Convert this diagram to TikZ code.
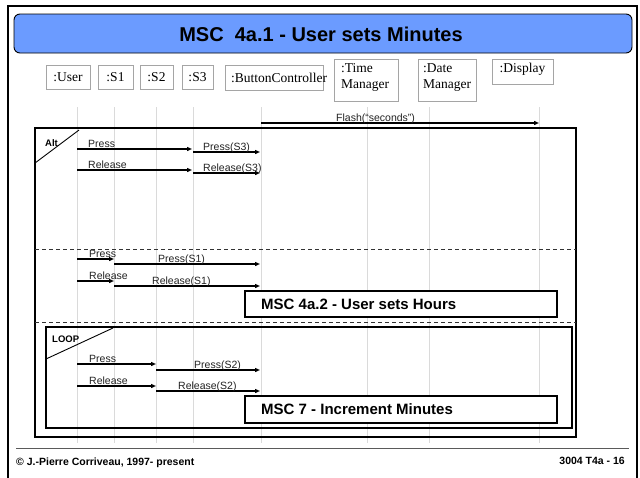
\documentclass[tikz,border=0pt]{standalone}
\usepackage{fontspec}
\setmainfont{Liberation Serif}
\newfontfamily\arialf{Liberation Sans}
\usetikzlibrary{arrows.meta}
\definecolor{titleblue}{RGB}{107,155,255}
\definecolor{lifegray}{RGB}{218,218,218}
\definecolor{boxgray}{RGB}{165,165,165}
\definecolor{labgray}{RGB}{35,35,35}
\definecolor{footgray}{RGB}{90,90,90}
\newcommand\mymsg[6]{%
  \coordinate (#1s) at (#2,#4);
  \coordinate (#1e) at (#3,#4);
  \draw[msg] (#1s) -- (#1e);
  \node[msglab] (#1l) at (#5,#4-2) {#6};
}
\begin{document}
\begin{tikzpicture}[x=1pt,y=-1pt,
  objbox/.style={draw=boxgray, line width=0.9pt, fill=white, inner sep=0pt,
    font=\fontsize{13.5}{16}\selectfont},
  objtext/.style={inner sep=0pt, font=\fontsize{13.5}{16}\selectfont, align=left},
  lifeline/.style={draw=lifegray, line width=0.9pt},
  msg/.style={line width=1.3pt, -{Triangle[length=5pt,width=4pt]}},
  msglab/.style={font=\arialf\fontsize{10.5}{12}\selectfont, text=labgray, inner sep=0pt, anchor=base west},
  fragframe/.style={draw=black, line width=2pt},
  fragslash/.style={draw=black, line width=0.9pt},
  fraglab/.style={font=\arialf\bfseries\fontsize{9.5}{11}\selectfont, inner sep=0pt, anchor=base west},
  divider/.style={draw=black!80, line width=0.8pt, dash pattern=on 4pt off 3pt},
  refbox/.style={draw=black, line width=2pt, fill=white, inner sep=0pt},
  reftext/.style={font=\arialf\bfseries\fontsize{15}{18}\selectfont, inner sep=0pt, anchor=west},
  foottext/.style={font=\arialf\bfseries\fontsize{10.5}{12}\selectfont, inner sep=0pt},
]
\useasboundingbox (0,0) rectangle (640,477);
\fill[white] (0,0) rectangle (640,477);
% outer slide frame
\draw[line width=1.2pt] (8,480) -- (8,6) -- (637,6) -- (637,480);
% title
\node[draw=black, line width=0.9pt, fill=titleblue, rounded corners=6pt,
  minimum width=618pt, minimum height=39pt, inner sep=0pt] (title) at (323,33.5) {};
\node[font=\arialf\bfseries\fontsize{20}{24}\selectfont, inner sep=0pt] (titletext) at (321,34)
  {MSC\ \ 4a.1 - User sets Minutes};
% lifelines
\foreach \lx/\ln in {77/lU,114/lA,156/lB,193/lC,261/lD,367/lE,429/lF,539/lG}{
  \coordinate (\ln top) at (\lx,107);
  \coordinate (\ln bot) at (\lx,443);
  \draw[lifeline] (\ln top) -- (\ln bot);
}
% object boxes
\node[objbox, minimum width=44pt, minimum height=24pt] (user) at (68,77) {:User};
\node[objbox, minimum width=35pt, minimum height=24pt] (s1) at (115.5,77) {:S1};
\node[objbox, minimum width=33pt, minimum height=24pt] (s2) at (156.5,77) {:S2};
\node[objbox, minimum width=31pt, minimum height=24pt] (s3) at (197.5,77) {:S3};
\node[objbox, minimum width=98pt, minimum height=25pt] (bc) at (274,77.5) {};
\node[objtext, anchor=west] (bctext) at (231,77.5) {:ButtonController};
\node[objbox, minimum width=64pt, minimum height=42pt] (tm) at (366,80) {};
\node[objtext, anchor=north west] (tmtext) at (341,63) {:Time\\Manager};
\node[objbox, minimum width=58pt, minimum height=42pt] (dm) at (447,80) {};
\node[objtext, anchor=north west] (dmtext) at (423,63) {:Date\\Manager};
\node[objbox, minimum width=61pt, minimum height=25pt] (disp) at (522.5,71.5) {};
\node[objtext, anchor=north] (disptext) at (522.5,63) {:Display};
% Flash
\mymsg{flash}{261}{539}{123}{336}{Flash(“seconds”)}
% Alt fragment
\node[fragframe, minimum width=541pt, minimum height=309pt, inner sep=0pt] (alt) at (305.5,282.5) {};
\coordinate (altslA) at (35,163);
\coordinate (altslB) at (79,130);
\draw[fragslash] (altslA) -- (altslB);
\node[fraglab] (altlab) at (45,146.5) {Alt};
\mymsg{m1}{77}{192}{149}{88}{Press}
\mymsg{m2}{193}{260}{152}{203}{Press(S3)}
\mymsg{m3}{77}{192}{170}{88}{Release}
\mymsg{m4}{193}{260}{173}{203}{Release(S3)}
% dividers
\coordinate (dv1a) at (35,249); \coordinate (dv1b) at (576,249);
\draw[divider] (dv1a) -- (dv1b);
\mymsg{m5}{77}{114}{259}{89}{Press}
\mymsg{m6}{114}{260}{264}{158}{Press(S1)}
\mymsg{m7}{77}{114}{281}{89}{Release}
\mymsg{m8}{114}{260}{286}{152}{Release(S1)}
\node[refbox, minimum width=312pt, minimum height=26pt] (ref1) at (401,304) {};
\node[reftext] (ref1text) at (261,304) {MSC 4a.2 - User sets Hours};
\coordinate (dv2a) at (35,322); \coordinate (dv2b) at (576,322);
\draw[divider] (dv2a) -- (dv2b);
% LOOP fragment
\node[fragframe, minimum width=526pt, minimum height=101pt, inner sep=0pt] (loop) at (309,377.5) {};
\coordinate (lpslA) at (46,359);
\coordinate (lpslB) at (113,328);
\draw[fragslash] (lpslA) -- (lpslB);
\node[fraglab] (looplab) at (52,342) {LOOP};
\mymsg{m9}{77}{156}{364}{89}{Press}
\mymsg{m10}{156}{260}{370}{194}{Press(S2)}
\mymsg{m11}{77}{156}{386}{89}{Release}
\mymsg{m12}{156}{260}{391}{178}{Release(S2)}
\node[refbox, minimum width=312pt, minimum height=27pt] (ref2) at (401,409.5) {};
\node[reftext] (ref2text) at (261,409.5) {MSC 7 - Increment Minutes};
% footer
\coordinate (ftA) at (16,448); \coordinate (ftB) at (629,448);
\draw[footgray, line width=1pt] (ftA) -- (ftB);
\node[foottext, anchor=base west] (copy) at (16,465) {© J.-Pierre Corriveau, 1997- present};
\node[foottext, anchor=base east] (pg) at (625,464) {3004 T4a - 16};
\end{tikzpicture}
\end{document}
